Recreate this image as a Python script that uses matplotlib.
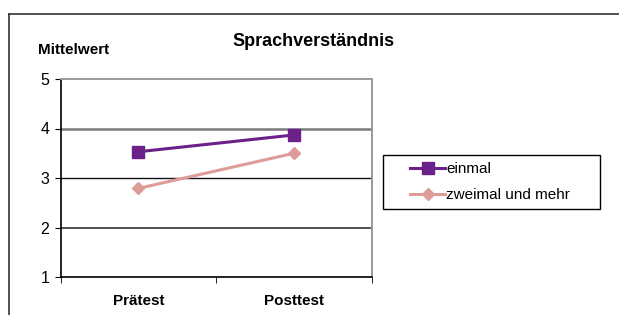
import matplotlib
matplotlib.use("Agg")
import matplotlib.pyplot as plt
from matplotlib.lines import Line2D
from matplotlib.patches import Rectangle

plt.rcParams["font.family"] = ["Liberation Sans", "DejaVu Sans"]

categories = ["Prätest", "Posttest"]
einmal = [3.53, 3.87]
zweimal = [2.79, 3.50]

W, H = 619, 315
fig = plt.figure(figsize=(W / 100, H / 100), dpi=100)
ax = fig.add_axes([60.5 / W, 1 - 277 / H, 311.5 / W, 198 / H])

x = list(range(len(categories)))
ax.plot(x, einmal, color="#6B2189", marker="s", markersize=8.5, linewidth=2.2,
        label="einmal", zorder=3)
ax.plot(x, zweimal, color="#DE9C98", marker="D", markersize=6.5, linewidth=2.2,
        label="zweimal und mehr", zorder=3)

ax.set_xlim(-0.5, 1.5)
ax.set_ylim(1, 5)
ax.set_yticks([1, 2, 3, 4, 5])
ax.set_xticks(x)
ax.set_xticklabels(categories, fontweight="bold", fontsize=11)
ax.set_xticks([-0.5, 0.5, 1.5], minor=True)
ax.tick_params(axis="x", which="major", length=0, pad=12)
ax.tick_params(axis="x", which="minor", length=4, direction="out", color="black")
ax.tick_params(axis="y", length=4, direction="out", labelsize=11.5, pad=4)

# horizontal gridlines
for yv, col, lw in [(2, "#333333", 1.2), (3, "#111111", 1.0), (4, "#7a7a7a", 1.8)]:
    ax.axhline(yv, color=col, linewidth=lw, zorder=1)

ax.spines["top"].set_color("#9a9a9a")
ax.spines["right"].set_color("#9a9a9a")
ax.spines["top"].set_linewidth(1.4)
ax.spines["right"].set_linewidth(1.4)
ax.spines["left"].set_color("black")
ax.spines["bottom"].set_color("black")
ax.spines["left"].set_linewidth(1.2)
ax.spines["bottom"].set_linewidth(1.2)

fig.text(314 / W, 1 - 41 / H, "Sprachverständnis", ha="center", va="center",
         fontsize=13, fontweight="bold")
fig.text(38 / W, 1 - 50 / H, "Mittelwert", ha="left", va="center",
         fontsize=11, fontweight="bold")

# legend box drawn separately, entries placed inside it
fig.add_artist(Rectangle((383 / W, 1 - 209 / H), 217 / W, 54 / H, fill=False,
                         edgecolor="black", linewidth=1.0,
                         transform=fig.transFigure))
leg = fig.legend(loc="center left", bbox_to_anchor=(410 / W, 1 - 182 / H),
                 fontsize=11, frameon=False, handlelength=2.3,
                 handletextpad=0.05, borderpad=0, borderaxespad=0,
                 labelspacing=0.78)

# outer chart border (left and top edges visible)
fig.add_artist(Line2D([8.5 / W, 8.5 / W], [0, 1 - 13.5 / H], color="#333333",
                      linewidth=1.2, transform=fig.transFigure))
fig.add_artist(Line2D([8.5 / W, 1], [1 - 13.5 / H, 1 - 13.5 / H], color="#333333",
                      linewidth=1.2, transform=fig.transFigure))

fig.savefig("out.png", dpi=100)
